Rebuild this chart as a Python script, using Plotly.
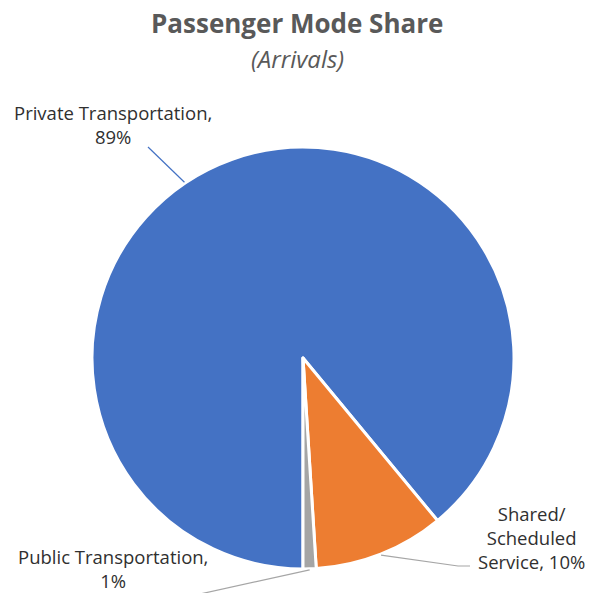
import math
import plotly.graph_objects as go

# ---- data ----
labels = ["Private Transportation", "Shared/ Scheduled Service", "Public Transportation"]
values = [89, 10, 1]
colors = ["#4472C4", "#ED7D31", "#A5A5A5"]
label_texts = ["Private Transportation,<br>89%", "Shared/<br>Scheduled<br>Service, 10%", "Public Transportation,<br>1%"]

W, H = 594, 593
CX, CY, R = 303, 358, 211  # pie geometry in px
FONT = "Open Sans, Calibri, Arial, sans-serif"

def px(x, y):
    return x / W, 1 - y / H

fig = go.Figure()
fig.add_trace(go.Pie(
    labels=labels, values=values, sort=False, direction="clockwise", rotation=180,
    marker=dict(colors=colors, line=dict(color="white", width=3)),
    textinfo="none", hoverinfo="label+percent", showlegend=False,
    domain=dict(x=[(CX - R) / W, (CX + R) / W], y=[1 - (CY + R) / H, 1 - (CY - R) / H]),
))

# slice mid angles (clockwise from 12 o'clock), starting at 180 deg
total = sum(values)
start = 180.0
mids = []
for v in values:
    span = 360.0 * v / total
    mids.append((start + span / 2) % 360)
    start += span

def edge(angle, r):
    a = math.radians(angle)
    return CX + r * math.sin(a), CY - r * math.cos(a)

shapes = []
def line(pts, color):
    path = "M " + " L ".join(f"{px(x, y)[0]},{px(x, y)[1]}" for x, y in pts)
    shapes.append(dict(type="path", path=path, xref="paper", yref="paper",
                       line=dict(color=color, width=1.2)))

# leader lines
line([(148, 147), edge(326, R + 1)], colors[0])
sx, sy = edge(mids[1], R + 1)
line([(sx, sy), (458, 566), (470, 566)], "#A6A6A6")
gx, gy = edge(mids[2], R + 1)
line([(gx, gy), (200, 594)], "#A6A6A6")

annotations = []
def label(text, x, y):
    ax, ay = px(x, y)
    annotations.append(dict(text=text, x=ax, y=ay, xref="paper", yref="paper",
                            showarrow=False, align="center", xanchor="center", yanchor="middle",
                            font=dict(family=FONT, size=18.5, color="#303030")))

label(label_texts[0], 113, 125)
label(label_texts[1], 531, 537)
label(label_texts[2], 113, 568)

# titles
annotations.append(dict(text="<b>Passenger Mode Share</b>", x=0.5, y=px(0, 23)[1], xref="paper", yref="paper",
                        showarrow=False, xanchor="center", yanchor="middle",
                        font=dict(family=FONT, size=26, color="#595959")))
annotations.append(dict(text="<i>(Arrivals)</i>", x=0.5, y=px(0, 58)[1], xref="paper", yref="paper",
                        showarrow=False, xanchor="center", yanchor="middle",
                        font=dict(family=FONT, size=24, color="#595959")))

fig.update_layout(
    width=W, height=H, margin=dict(l=0, r=0, t=0, b=0),
    paper_bgcolor="white", plot_bgcolor="white",
    shapes=shapes, annotations=annotations,
)
fig.write_html("out.html")
